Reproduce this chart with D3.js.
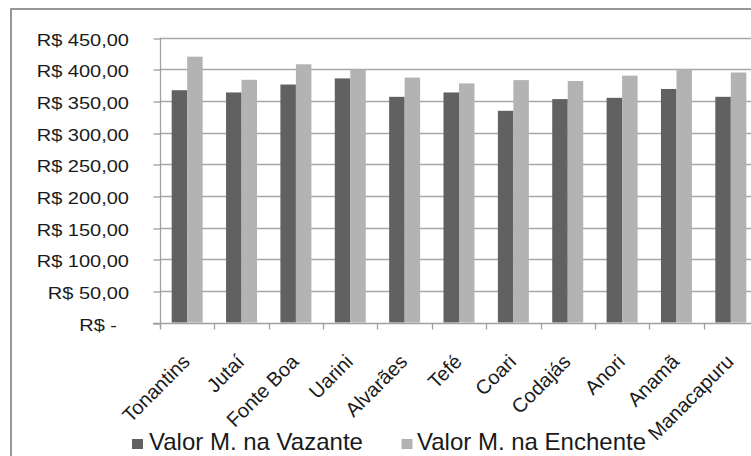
<!DOCTYPE html>
<html><head><meta charset="utf-8">
<script src="https://cdn.jsdelivr.net/npm/d3@7"></script>
<style>
html,body{margin:0;padding:0;background:#fff;overflow:hidden}
text{font-family:"Liberation Sans",Arial,sans-serif;fill:#1a1a1a}
</style></head><body>
<script>
const categories = ["Tonantins","Jutaí","Fonte Boa","Uarini","Alvarães","Tefé","Coari","Codajás","Anori","Anamã","Manacapuru"];
const seriesNames = ["Valor M. na Vazante","Valor M. na Enchente"];
const vazante = [367,363.5,376,385.7,356.6,363.5,334.5,353,355,369,356.6];
const enchente = [420,383.5,408,399.5,387,377.8,383,381.5,390,399.5,395];
const yTicks = [0,50,100,150,200,250,300,350,400,450];
const yTickLabels = ["R$ -","R$ 50,00","R$ 100,00","R$ 150,00","R$ 200,00","R$ 250,00","R$ 300,00","R$ 350,00","R$ 400,00","R$ 450,00"];
const colors = ["#616161","#b3b3b3"];

const W=751,H=456;
const svg=d3.select("body").append("svg").attr("width",W).attr("height",H);
svg.append("rect").attr("width",W).attr("height",H).attr("fill","#fff");
svg.append("rect").attr("x",11).attr("y",9).attr("width",760).attr("height",470)
  .attr("fill","none").attr("stroke","#8c8c8c").attr("stroke-width",1.8);

const x0=160, x1=758, yTop=37.7, yBot=322.5;
const y=d3.scaleLinear().domain([0,450]).range([yBot,yTop]);
const x=d3.scaleBand().domain(categories).range([x0,x1]).paddingInner(0).paddingOuter(0);
const groupW=31;
const xs=d3.scaleBand().domain([0,1]).range([(x.bandwidth()-groupW)/2,(x.bandwidth()+groupW)/2]);

svg.append("g").selectAll("line").data(yTicks.filter(d=>d>0)).join("line")
  .attr("x1",x0).attr("x2",x1).attr("y1",d=>Math.round(y(d))+0.5).attr("y2",d=>Math.round(y(d))+0.5)
  .attr("stroke","#a8a8a8").attr("stroke-width",1.3);

const data=categories.map((c,i)=>({c,v:[vazante[i],enchente[i]]}));
const g=svg.append("g");
data.forEach(d=>{
  d.v.forEach((v,j)=>{
    g.append("rect").attr("x",x(d.c)+xs(j)).attr("width",xs.bandwidth())
      .attr("y",y(v)).attr("height",y(0)-y(v)).attr("fill",colors[j]);
  });
});

const yAxis=d3.axisLeft(y).tickValues(yTicks).tickSize(7).tickFormat("");
const ya=svg.append("g").attr("transform",`translate(${x0+0.5},0)`).call(yAxis);
ya.selectAll("path,line").attr("stroke","#a0a0a0").attr("stroke-width",1.3);
ya.select("path").attr("d",`M0,${yTop}V${yBot+6}`);
ya.selectAll(".tick line").attr("transform",d=>`translate(0,${Math.round(y(d))+0.5-y(d)})`);

const yl=svg.append("g");
yTicks.forEach((t,i)=>{
  const ex = t===0 ? 117 : 129;
  yl.append("g").attr("transform",`translate(${ex},${y(t)+8}) scale(1.25,1)`)
    .append("text").attr("text-anchor","end").attr("font-size",16).text(yTickLabels[i]);
});

const xAxis=d3.axisBottom(x).tickSize(0).tickFormat("");
const xa=svg.append("g").attr("transform",`translate(0,${Math.round(yBot)+0.5})`).call(xAxis);
xa.select("path").attr("d",`M${x0-7},0H${x1}`).attr("stroke","#a0a0a0").attr("stroke-width",1.3);
const tickPos=categories.map(c=>x(c));
xa.selectAll(".bt").data(tickPos).join("line").attr("class","bt")
  .attr("x1",d=>Math.round(d)+0.5).attr("x2",d=>Math.round(d)+0.5).attr("y1",0).attr("y2",6)
  .attr("stroke","#a0a0a0").attr("stroke-width",1.3);

svg.append("g").selectAll("text").data(categories).join("text")
  .attr("text-anchor","end").attr("font-size",20)
  .attr("transform",d=>`translate(${x(d)+x.bandwidth()/2+4},${363}) rotate(-45)`)
  .text(d=>d);

const leg=[{x:132,tx:149},{x:401.5,tx:417}];
seriesNames.forEach((n,i)=>{
  svg.append("rect").attr("x",leg[i].x).attr("y",439).attr("width",11).attr("height",10).attr("fill",colors[i]);
  svg.append("text").attr("x",leg[i].tx).attr("y",450).attr("font-size",24).text(n);
});
</script>
</body></html>
